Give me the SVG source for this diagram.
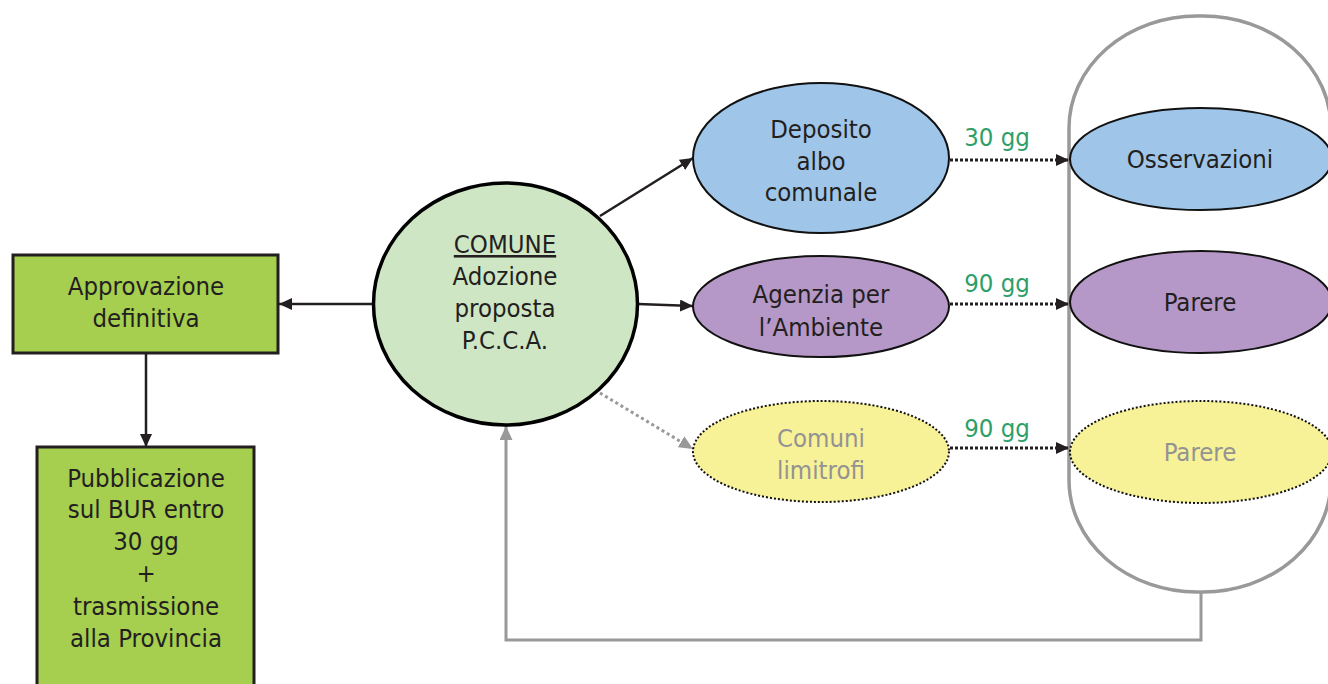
<svg xmlns="http://www.w3.org/2000/svg" width="1328" height="684" viewBox="0 0 1328 684">
<style>
text{font-family:"DejaVu Sans Condensed","DejaVu Sans","Liberation Sans",sans-serif;font-size:25.5px;text-anchor:middle;fill:#231f20}
.grey{fill:#939393}
.green{fill:#2e9f68}
.box{fill:#a6ce4f;stroke:#231f20;stroke-width:3}
.el{stroke:#111;stroke-width:2}
.dot{stroke-dasharray:2 2}
.ln{fill:none;stroke:#231f20;stroke-width:2.5}
.dl{fill:none;stroke:#231f20;stroke-width:3;stroke-dasharray:3 2}
.gl{fill:none;stroke:#999;stroke-width:3}
</style>
<defs>
<marker id="ah" viewBox="0 0 13 12" refX="13" refY="6" markerWidth="13" markerHeight="12" markerUnits="userSpaceOnUse" orient="auto"><path d="M0,0L13,6L0,12z" fill="#231f20"/></marker>
<marker id="ag" viewBox="0 0 13 12" refX="13" refY="6" markerWidth="14" markerHeight="13" markerUnits="userSpaceOnUse" orient="auto"><path d="M0,0L13,6L0,12z" fill="#999"/></marker>
</defs>

<g id="container">
<rect x="1069" y="16" width="262" height="576" rx="128" ry="112" fill="none" stroke="#999" stroke-width="3.5"/>
</g>

<g id="connectors">
<line class="ln" x1="373" y1="304" x2="279" y2="304" marker-end="url(#ah)"/>
<line class="ln" x1="146" y1="353" x2="146" y2="447" marker-end="url(#ah)"/>
<line class="ln" x1="600" y1="216" x2="693" y2="158" marker-end="url(#ah)"/>
<line class="ln" x1="638" y1="304" x2="693" y2="306" marker-end="url(#ah)"/>
<line fill="none" stroke="#999" stroke-width="3" stroke-dasharray="3 3" x1="600" y1="393" x2="693" y2="449" marker-end="url(#ag)"/>
<line class="dl" x1="950" y1="160" x2="1069" y2="160" marker-end="url(#ah)"/>
<line class="dl" x1="950" y1="304" x2="1069" y2="304" marker-end="url(#ah)"/>
<line class="dl" x1="950" y1="448" x2="1069" y2="448" marker-end="url(#ah)"/>
<polyline class="gl" points="1201,592 1201,640 506,640 506,426" marker-end="url(#ag)"/>
<text class="green" x="997" y="146">30 gg</text>
<text class="green" x="997" y="292">90 gg</text>
<text class="green" x="997" y="437">90 gg</text>
</g>

<g id="approvazione">
<rect class="box" x="13" y="255" width="265" height="98"/>
<text x="146" y="295">Approvazione</text>
<text x="146" y="327">definitiva</text>
</g>

<g id="pubblicazione">
<rect class="box" x="37" y="447" width="217" height="260"/>
<text x="146" y="487">Pubblicazione</text>
<text x="146" y="518">sul BUR entro</text>
<text x="146" y="550">30 gg</text>
<text x="146" y="582">+</text>
<text x="146" y="615">trasmissione</text>
<text x="146" y="647">alla Provincia</text>
</g>

<g id="comune">
<ellipse cx="505.5" cy="304" rx="132" ry="121" fill="#cfe6c4" stroke="#000" stroke-width="3.5"/>
<text x="505" y="253" text-decoration="underline">COMUNE</text>
<text x="505" y="285">Adozione</text>
<text x="505" y="317">proposta</text>
<text x="505" y="349">P.C.C.A.</text>
</g>

<g id="deposito">
<ellipse class="el" cx="821" cy="158" rx="128" ry="75" fill="#9fc6e9"/>
<text x="821" y="138">Deposito</text>
<text x="821" y="169.5">albo</text>
<text x="821" y="201">comunale</text>
</g>

<g id="agenzia">
<ellipse class="el" cx="821" cy="306.5" rx="128" ry="50.5" fill="#b598c7"/>
<text x="821" y="303">Agenzia per</text>
<text x="821" y="336">l’Ambiente</text>
</g>

<g id="limitrofi">
<ellipse class="el dot" cx="821" cy="451.5" rx="128" ry="50.5" fill="#f7f197"/>
<text class="grey" x="821" y="447">Comuni</text>
<text class="grey" x="821" y="479">limitrofi</text>
</g>

<g id="osservazioni">
<ellipse class="el" cx="1201" cy="159" rx="131" ry="51" fill="#9fc6e9"/>
<text x="1200" y="168">Osservazioni</text>
</g>

<g id="parere1">
<ellipse class="el" cx="1201" cy="302" rx="131" ry="51" fill="#b598c7"/>
<text x="1200" y="311">Parere</text>
</g>

<g id="parere2">
<ellipse class="el dot" cx="1201" cy="452" rx="131" ry="51" fill="#f7f197"/>
<text class="grey" x="1200" y="461">Parere</text>
</g>
</svg>
